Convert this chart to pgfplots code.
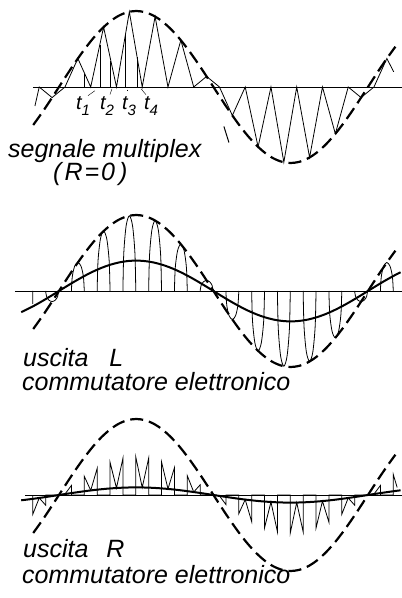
\documentclass[border=0pt]{standalone}
\usepackage{pgfplots}
\pgfplotsset{compat=1.18}
\usepackage{pgfplotstable}
\usepackage{fontspec}
\setmainfont{Liberation Sans}

% audio cycle: phase in degrees, envelope (L), decoded outputs L and R
\pgfplotstableread{
ph   env     outL    outR
-44  -0.6947 -0.2779 -0.0695
-40  -0.6428 -0.2571 -0.0643
-30  -0.5000 -0.2000 -0.0500
-20  -0.3420 -0.1368 -0.0342
-10  -0.1736 -0.0694 -0.0174
0     0.0000  0.0000  0.0000
10    0.1736  0.0694  0.0174
20    0.3420  0.1368  0.0342
30    0.5000  0.2000  0.0500
40    0.6428  0.2571  0.0643
50    0.7660  0.3064  0.0766
60    0.8660  0.3464  0.0866
70    0.9397  0.3759  0.0940
80    0.9848  0.3939  0.0985
90    1.0000  0.4000  0.1000
100   0.9848  0.3939  0.0985
110   0.9397  0.3759  0.0940
120   0.8660  0.3464  0.0866
130   0.7660  0.3064  0.0766
140   0.6428  0.2571  0.0643
150   0.5000  0.2000  0.0500
160   0.3420  0.1368  0.0342
170   0.1736  0.0694  0.0174
180   0.0000  0.0000  0.0000
190  -0.1736 -0.0694 -0.0174
200  -0.3420 -0.1368 -0.0342
210  -0.5000 -0.2000 -0.0500
220  -0.6428 -0.2571 -0.0643
230  -0.7660 -0.3064 -0.0766
240  -0.8660 -0.3464 -0.0866
250  -0.9397 -0.3759 -0.0940
260  -0.9848 -0.3939 -0.0985
270  -1.0000 -0.4000 -0.1000
280  -0.9848 -0.3939 -0.0985
290  -0.9397 -0.3759 -0.0940
300  -0.8660 -0.3464 -0.0866
310  -0.7660 -0.3064 -0.0766
320  -0.6428 -0.2571 -0.0643
330  -0.5000 -0.2000 -0.0500
340  -0.3420 -0.1368 -0.0342
350  -0.1736 -0.0694 -0.0174
360   0.0000  0.0000  0.0000
370   0.1736  0.0694  0.0174
380   0.3420  0.1368  0.0342
390   0.5000  0.2000  0.0500
392   0.5299  0.2120  0.0530
398   0.6157  0.2463  0.0616
}\audio

\pgfplotsset{
  panel/.style={x=0.8583pt, y=76pt, xmin=-68.7, xmax=399.6, ymin=-1.2, ymax=1.1,
    enlargelimits=false, hide axis, clip=false, anchor=south west},
  envelope/.style={black, line width=2.2pt, dash pattern=on 13pt off 6pt, smooth},
  thin/.style={black, line width=0.8pt},
  base/.style={black, line width=0.9pt},
  thick/.style={black, line width=2pt, smooth},
}
\newcommand\lab{\itshape\fontsize{25}{30}\selectfont}
\newcommand\tlab[1]{\itshape\fontsize{20}{22}\selectfont t\raisebox{-6pt}{\fontsize{15}{17}\selectfont #1}}

\begin{document}
\begin{tikzpicture}
\path[use as bounding box] (0,0) rectangle (402pt,598pt);

% ---------- multiplex signal (R = 0) ----------
\begin{axis}[panel, at={(0pt,419.8pt)}]
  \addplot[base] coordinates {(-30.3,0) (399.6,0)};
  \addplot[envelope, restrict x to domain=-30:392] table[x=ph, y=env] {\audio};
  \addplot[thin] coordinates {
    (-28,-0.25) (-23,0) (-8,-0.139) (7,0) (22,0.375) (37,0) (52,0.788) (67,0)
    (82,0.990) (97,0) (112,0.927) (127,0) (142,0.616) (157,0) (172,0.139) (187,0)
    (202,-0.375) (217,0) (232,-0.788) (247,0) (262,-0.990) (277,0) (292,-0.927)
    (307,0) (322,-0.616) (337,0) (352,-0.139) (367,0) (382,0.375) (390,0.2)};
  \addplot[thin, ycomb] coordinates {(30,0.17) (47.8,0.55) (60.3,0.34) (77.7,0.69) (91,0.4)};
  \draw[thin] (axis cs:33.8,-0.114) -- (axis cs:41.9,-0.049);
  \draw[thin] (axis cs:59.4,-0.101) -- (axis cs:61.8,-0.022);
  \draw[thin] (axis cs:79.2,-0.036) -- (axis cs:79.2,-0.055);
  \draw[thin] (axis cs:95.5,-0.022) -- (axis cs:101.4,-0.101);
  \draw[line width=1pt] (axis cs:192.2,-0.52) -- (axis cs:198,-0.73);
\end{axis}
\node[inner sep=0] at (83pt,492pt) {\tlab{1}};
\node[inner sep=0] at (107pt,492pt) {\tlab{2}};
\node[inner sep=0] at (129pt,492pt) {\tlab{3}};
\node[inner sep=0] at (151pt,492pt) {\tlab{4}};
\node[anchor=base west, inner sep=0] at (8pt,440pt) {\lab segnale multiplex};
\node[anchor=base west, inner sep=0] at (53pt,417pt) {\lab (\hspace{3pt}R\hspace{2pt}=\hspace{2pt}0\hspace{4pt})};

% ---------- output L ----------
\begin{axis}[panel, at={(0pt,215.8pt)}]
  \addplot[base] coordinates {(-51.3,0) (399.6,0)};
  \addplot[envelope, restrict x to domain=-30:392] table[x=ph, y=env] {\audio};
  \addplot[thin, smooth, unbounded coords=jump] coordinates {
    (-30.5,0) (-30.5,-0.17) (-30.5,nan)
    (-15.5,0) (-14.5,-0.07) (-11.75,-0.12) (-8,-0.139) (-4.25,-0.12) (-1.5,-0.07) (-0.5,0) (-0.5,nan)
    (14.5,0) (15.5,0.187) (18.25,0.325) (22,0.375) (25.75,0.325) (28.5,0.187) (29.5,0) (29.5,nan)
    (44.5,0) (45.5,0.394) (48.25,0.682) (52,0.788) (55.75,0.682) (58.5,0.394) (59.5,0) (59.5,nan)
    (74.5,0) (75.5,0.495) (78.25,0.857) (82,0.990) (85.75,0.857) (88.5,0.495) (89.5,0) (89.5,nan)
    (104.5,0) (105.5,0.464) (108.25,0.803) (112,0.927) (115.75,0.803) (118.5,0.464) (119.5,0) (119.5,nan)
    (134.5,0) (135.5,0.308) (138.25,0.533) (142,0.616) (145.75,0.533) (148.5,0.308) (149.5,0) (149.5,nan)
    (164.5,0) (165.5,0.07) (168.25,0.12) (172,0.139) (175.75,0.12) (178.5,0.07) (179.5,0) (179.5,nan)
    (194.5,0) (195.5,-0.187) (198.25,-0.325) (202,-0.375) (205.75,-0.325) (208.5,-0.187) (209.5,0) (209.5,nan)
    (224.5,0) (225.5,-0.394) (228.25,-0.682) (232,-0.788) (235.75,-0.682) (238.5,-0.394) (239.5,0) (239.5,nan)
    (254.5,0) (255.5,-0.495) (258.25,-0.857) (262,-0.990) (265.75,-0.857) (268.5,-0.495) (269.5,0) (269.5,nan)
    (284.5,0) (285.5,-0.464) (288.25,-0.803) (292,-0.927) (295.75,-0.803) (298.5,-0.464) (299.5,0) (299.5,nan)
    (314.5,0) (315.5,-0.308) (318.25,-0.533) (322,-0.616) (325.75,-0.533) (328.5,-0.308) (329.5,0) (329.5,nan)
    (344.5,0) (345.5,-0.07) (348.25,-0.12) (352,-0.139) (355.75,-0.12) (358.5,-0.07) (359.5,0) (359.5,nan)
    (374.5,0) (375.5,0.187) (378.25,0.325) (382,0.375) (385.75,0.325) (388.5,0.187) (389.5,0)};
  \addplot[thick] table[x=ph, y=outL] {\audio};
\end{axis}
\node[anchor=base west, inner sep=0] at (23pt,231pt) {\lab uscita\hspace{21pt}L};
\node[anchor=base west, inner sep=0] at (22pt,207pt) {\lab commutatore elettronico};

% ---------- output R ----------
\begin{axis}[panel, at={(0pt,11.8pt)}]
  \addplot[base] coordinates {(-39.6,0) (399.6,0)};
  \addplot[envelope, restrict x to domain=-32:392] table[x=ph, y=env] {\audio};
  \addplot[thin] coordinates {
    (-30.5,0) (-30.5,-0.254) (-23,-0.039) (-15.5,-0.134) (-15.5,0)
    (-0.5,0) (-0.5,-0.004) (7,0.012) (14.5,0.125) (14.5,0)
    (29.5,0) (29.5,0.246) (37,0.06) (44.5,0.350) (44.5,0)
    (59.5,0) (59.5,0.431) (67,0.092) (74.5,0.482) (74.5,0)
    (89.5,0) (89.5,0.5) (97,0.099) (104.5,0.484) (104.5,0)
    (119.5,0) (119.5,0.435) (127,0.08) (134.5,0.357) (134.5,0)
    (149.5,0) (149.5,0.254) (157,0.039) (164.5,0.134) (164.5,0)
    (179.5,0) (179.5,0.004) (187,-0.012) (194.5,-0.125) (194.5,0)
    (209.5,0) (209.5,-0.246) (217,-0.06) (224.5,-0.350) (224.5,0)
    (239.5,0) (239.5,-0.431) (247,-0.092) (254.5,-0.482) (254.5,0)
    (269.5,0) (269.5,-0.5) (277,-0.099) (284.5,-0.484) (284.5,0)
    (299.5,0) (299.5,-0.435) (307,-0.08) (314.5,-0.357) (314.5,0)
    (329.5,0) (329.5,-0.254) (337,-0.039) (344.5,-0.134) (344.5,0)
    (359.5,0) (359.5,-0.004) (367,0.012) (374.5,0.125) (374.5,0)
    (389.5,0) (389.5,0.27) (394,0.1)};
  \addplot[thick] table[x=ph, y=outR] {\audio};
\end{axis}
\node[anchor=base west, inner sep=0] at (23pt,40pt) {\lab uscita\hspace{18pt}R};
\node[anchor=base west, inner sep=0] at (22pt,14pt) {\lab commutatore elettronico};
\end{tikzpicture}
\end{document}
